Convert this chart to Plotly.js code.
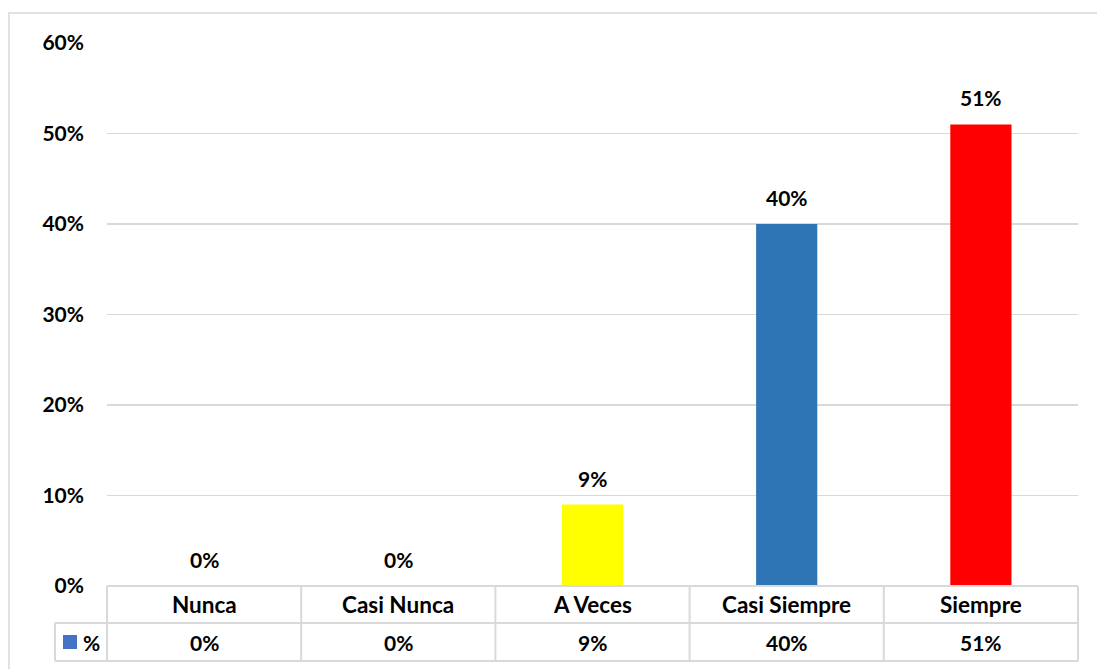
<!DOCTYPE html>
<html>
<head>
<meta charset="utf-8">
<script src="https://cdn.plot.ly/plotly-3.0.1.min.js"></script>
<style>html,body{margin:0;padding:0;background:#fff;}#chart{width:1097px;height:669px;}</style>
</head>
<body>
<div id="chart"></div>
<script>
const categories = ["Nunca", "Casi Nunca", "A Veces", "Casi Siempre", "Siempre"];
const values = [0, 0, 9, 40, 51];
const valueLabels = ["0%", "0%", "9%", "40%", "51%"];
const barColors = ["#4472C4", "#4472C4", "#FFFF00", "#2E75B6", "#FF0000"];
const seriesName = "%";
const legendColor = "#4472C4";

const W = 1097, H = 669;
const L = 107, R = 1078, T = 43, B = 586;
const pw = R - L, ph = B - T;
const px = x => (x - L) / pw;
const py = y => (B - y) / ph;
const grid = "#d9d9d9";
const font = {family: "Lato, 'Liberation Sans', sans-serif", size: 21, color: "#000", weight: 700};
const catFont = Object.assign({}, font, {size: 22.5});

const rowMid1 = 604.5, rowMid2 = 642;
const tableTop = 586, tableMid = 623, tableBot = 661, legendLeft = 55;

const shapes = [];
function line(x0, y0, x1, y1, w) {
  shapes.push({type: "line", xref: "paper", yref: "paper", x0: px(x0), y0: py(y0), x1: px(x1), y1: py(y1),
    line: {color: grid, width: w || 2}});
}
// outer chart frame
shapes.push({type: "rect", xref: "paper", yref: "paper", x0: px(9), y0: py(13), x1: px(1105), y1: py(690),
  line: {color: grid, width: 1.5}, fillcolor: "rgba(0,0,0,0)"});
// data table
line(L, tableTop, R, tableTop);
line(legendLeft, tableMid, R, tableMid);
line(legendLeft, tableBot, R, tableBot);
line(legendLeft, tableMid, legendLeft, tableBot);
const n = categories.length;
for (let k = 0; k <= n; k++) {
  const x = L + pw * k / n;
  line(x, tableTop, x, tableBot);
}
// legend key
shapes.push({type: "rect", xref: "paper", yref: "paper", x0: px(63), y0: py(635), x1: px(77), y1: py(649),
  line: {width: 0}, fillcolor: legendColor});

const annotations = [];
categories.forEach((c, i) => {
  annotations.push({x: c, xref: "x", y: py(rowMid1), yref: "paper", text: c, showarrow: false,
    xanchor: "center", yanchor: "middle", font: catFont});
  annotations.push({x: c, xref: "x", y: py(rowMid2), yref: "paper", text: valueLabels[i], showarrow: false,
    xanchor: "center", yanchor: "middle", font: font});
  annotations.push({x: c, xref: "x", y: values[i], yref: "y", text: valueLabels[i], showarrow: false,
    xanchor: "center", yanchor: "bottom", yshift: 12, font: font});
});
annotations.push({x: px(81), xref: "paper", y: py(rowMid2), yref: "paper", text: seriesName, showarrow: false,
  xanchor: "left", yanchor: "middle", font: font});

const trace = {
  type: "bar", x: categories, y: values, width: 0.315,
  marker: {color: barColors, line: {width: 0}}, hoverinfo: "skip", showlegend: false
};

const layout = {
  width: W, height: H,
  margin: {l: L, r: W - R, t: T, b: H - B, pad: 0},
  paper_bgcolor: "#fff", plot_bgcolor: "#fff",
  showlegend: false,
  xaxis: {type: "category", showticklabels: false, showgrid: false, zeroline: false, showline: false, ticks: ""},
  yaxis: {range: [0, 60], dtick: 10, tick0: 0, ticksuffix: "%", showgrid: true, gridcolor: grid, gridwidth: 1.5,
    zeroline: false, showline: false, ticks: "", ticklabelstandoff: 22, tickfont: font},
  shapes: shapes,
  annotations: annotations
};

Plotly.newPlot("chart", [trace], layout, {staticPlot: true, displayModeBar: false});
</script>
</body>
</html>
